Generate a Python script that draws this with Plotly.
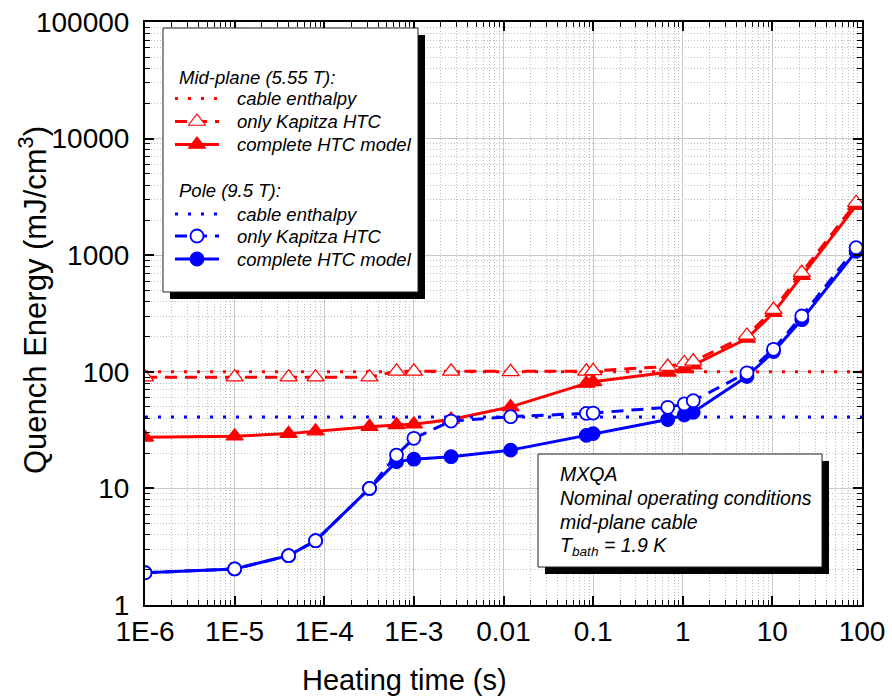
import plotly.graph_objects as go

# ---- data -------------------------------------------------------------
heating_time = [1e-6, 1e-5, 4e-5, 8e-5, 3.2e-4, 6.4e-4, 1e-3, 2.6e-3, 0.012,
                0.084, 0.1, 0.68, 1.04, 1.31, 5.2, 10.3, 21.3, 86]

mid_kapitza = [90, 90, 90, 90, 90, 101, 101, 101, 100,
               101, 102, 111, 119, 123, 205, 342, 710, 2820]
mid_complete = [27.4, 28, 29.5, 31, 33.8, 35, 35.5, 39, 50,
                79.5, 82, 99, 106, 114, 193, 322, 668, 2660]
pole_kapitza = [1.89, 2.04, 2.65, 3.56, 10.0, 19.3, 26.9, 37.8, 41.2,
                44, 44.3, 49.6, 53, 56.5, 98, 156, 301, 1160]
pole_complete = [1.89, 2.04, 2.65, 3.56, 10.0, 16.9, 17.8, 18.7, 21.3,
                 28.5, 29.5, 39, 42.6, 45, 91, 149, 280, 1080]
mid_enthalpy = 100
pole_enthalpy = 41

x_tick_vals = [1e-6, 1e-5, 1e-4, 1e-3, 1e-2, 1e-1, 1, 10, 100]
x_tick_text = ["1E-6", "1E-5", "1E-4", "1E-3", "0.01", "0.1", "1", "10", "100"]
y_tick_vals = [1, 10, 100, 1000, 10000, 100000]
y_tick_text = ["1", "10", "100", "1000", "10000", "100000"]

# ---- styling ----------------------------------------------------------
W, H = 892, 697
PX0, PX1, PY0, PY1 = 145, 862, 22, 605   # plot frame in pixels
RED, BLUE = "#ff0000", "#0000ff"
FONT = "Liberation Sans, Arial, Helvetica, sans-serif"
DOT = "3px,10px"
DASH = "12px,8px"

fig = go.Figure()


def add_curve(y, color, dash, symbol, filled, size, edge):
    fig.add_trace(go.Scatter(
        x=heating_time, y=y, mode="lines+markers",
        line=dict(color=color, width=3, dash=dash),
        marker=dict(symbol=symbol, size=size,
                    color=color if filled else "white",
                    line=dict(color=color, width=edge)),
        xaxis="x", yaxis="y", showlegend=False))


def add_level(level, color):
    fig.add_trace(go.Scatter(
        x=[x_tick_vals[0], x_tick_vals[-1]], y=[level, level], mode="lines",
        line=dict(color=color, width=3, dash=DOT),
        xaxis="x", yaxis="y", showlegend=False))


add_level(mid_enthalpy, RED)
add_curve(mid_complete, RED, "solid", "triangle-up", True, 15, 1.2)
add_curve(mid_kapitza, RED, DASH, "triangle-up", False, 15, 1.2)
add_level(pole_enthalpy, BLUE)
add_curve(pole_complete, BLUE, "solid", "circle", True, 13, 1.8)
add_curve(pole_kapitza, BLUE, DASH, "circle", False, 13, 1.8)

# minor tick positions (2..9 within each decade)
x_minor = [m * 10.0 ** e for e in range(-6, 2) for m in range(2, 10)]
y_minor = [m * 10.0 ** e for e in range(0, 5) for m in range(2, 10)]

minor_style = dict(ticks="inside", ticklen=5, tickwidth=1, tickcolor="black",
                   showgrid=True, gridcolor="#bdbdbd", griddash="1px,2px",
                   gridwidth=1)

axis_common = dict(
    type="log", showline=True, linewidth=2, linecolor="black", mirror="ticks",
    ticks="inside", ticklen=9, tickwidth=1.5, tickcolor="black",
    showgrid=True, gridcolor="#c8c8c8", gridwidth=1, zeroline=False,
    tickfont=dict(family=FONT, size=28, color="black"),
    automargin=False, fixedrange=True,
)

fig.update_layout(
    xaxis=dict(axis_common, range=[-6, 2], domain=[PX0 / W, PX1 / W],
               tickvals=x_tick_vals, ticktext=x_tick_text,
               minor=dict(minor_style, tickvals=x_minor), anchor="y"),
    yaxis=dict(axis_common, range=[0, 5], domain=[1 - PY1 / H, 1 - PY0 / H],
               tickvals=y_tick_vals, ticktext=y_tick_text,
               ticklabelstandoff=8,
               minor=dict(minor_style, tickvals=y_minor), anchor="x"),
    # pixel-space layer for the legend, inset and titles
    xaxis2=dict(range=[0, W], domain=[0, 1], visible=False, anchor="y2",
                fixedrange=True),
    yaxis2=dict(range=[H, 0], domain=[0, 1], visible=False, anchor="x2",
                fixedrange=True),
    width=W, height=H, margin=dict(l=0, r=0, t=0, b=0),
    paper_bgcolor="white", plot_bgcolor="rgba(0,0,0,0)",
    template="none", showlegend=False,
)

shapes = []
annotations = []


def framed_box(x0, y0, x1, y1, offset=7):
    shapes.append(dict(type="rect", xref="x2", yref="y2", layer="between",
                       x0=x0 + offset, y0=y0 + offset, x1=x1 + offset, y1=y1 + offset,
                       fillcolor="black", line=dict(width=0)))
    shapes.append(dict(type="rect", xref="x2", yref="y2", layer="between",
                       x0=x0, y0=y0, x1=x1, y1=y1,
                       fillcolor="white", line=dict(color="#202020", width=1)))


def text(x, y, s, size, anchor="left", angle=0):
    annotations.append(dict(x=x, y=y, xref="x2", yref="y2", text=s,
                            showarrow=False, xanchor=anchor, yanchor="middle",
                            textangle=angle,
                            font=dict(family=FONT, size=size, color="black")))


# ---- legend -----------------------------------------------------------
framed_box(163, 28, 418, 292)
legend_groups = [
    ("Mid-plane (5.55 T):", 77, RED, "triangle-up", 15, 1.2,
     [("cable enthalpy", 98.5), ("only Kapitza HTC", 121.5), ("complete HTC model", 144.5)]),
    ("Pole (9.5 T):", 190, BLUE, "circle", 13, 1.8,
     [("cable enthalpy", 214), ("only Kapitza HTC", 236), ("complete HTC model", 259)]),
]
for title, ty, color, symbol, msize, edge, rows in legend_groups:
    text(177, ty, "<i>%s</i>" % title, 18.5)
    for i, (label, ry) in enumerate(rows):
        dash = [DOT, DASH, "solid"][i]
        fig.add_trace(go.Scatter(x=[175, 219], y=[ry, ry], mode="lines",
                                 line=dict(color=color, width=3, dash=dash),
                                 xaxis="x2", yaxis="y2", showlegend=False,
                                 hoverinfo="skip"))
        if i > 0:
            fig.add_trace(go.Scatter(
                x=[197], y=[ry], mode="markers", xaxis="x2", yaxis="y2",
                marker=dict(symbol=symbol, size=msize,
                            color="white" if i == 1 else color,
                            line=dict(color=color, width=edge)),
                showlegend=False, hoverinfo="skip"))
        text(235, ry, "<i>%s</i>" % label, 18.5)

# ---- inset with operating conditions ---------------------------------
framed_box(538, 454, 822, 567)
inset_lines = ["MXQA", "Nominal operating conditions", "mid-plane cable",
               "T<sub>bath</sub> = 1.9 K"]
for k, line in enumerate(inset_lines):
    text(558, 473.5 + 24.4 * k, "<i>%s</i>" % line, 19.5)

# ---- axis titles ------------------------------------------------------
text(404, 680, "Heating time (s)", 29, anchor="center")
text(33, 300, "Quench Energy (mJ/cm<sup>3</sup>)", 31, anchor="center", angle=-90)

fig.update_layout(shapes=shapes, annotations=annotations)
fig.write_html("out.html")
